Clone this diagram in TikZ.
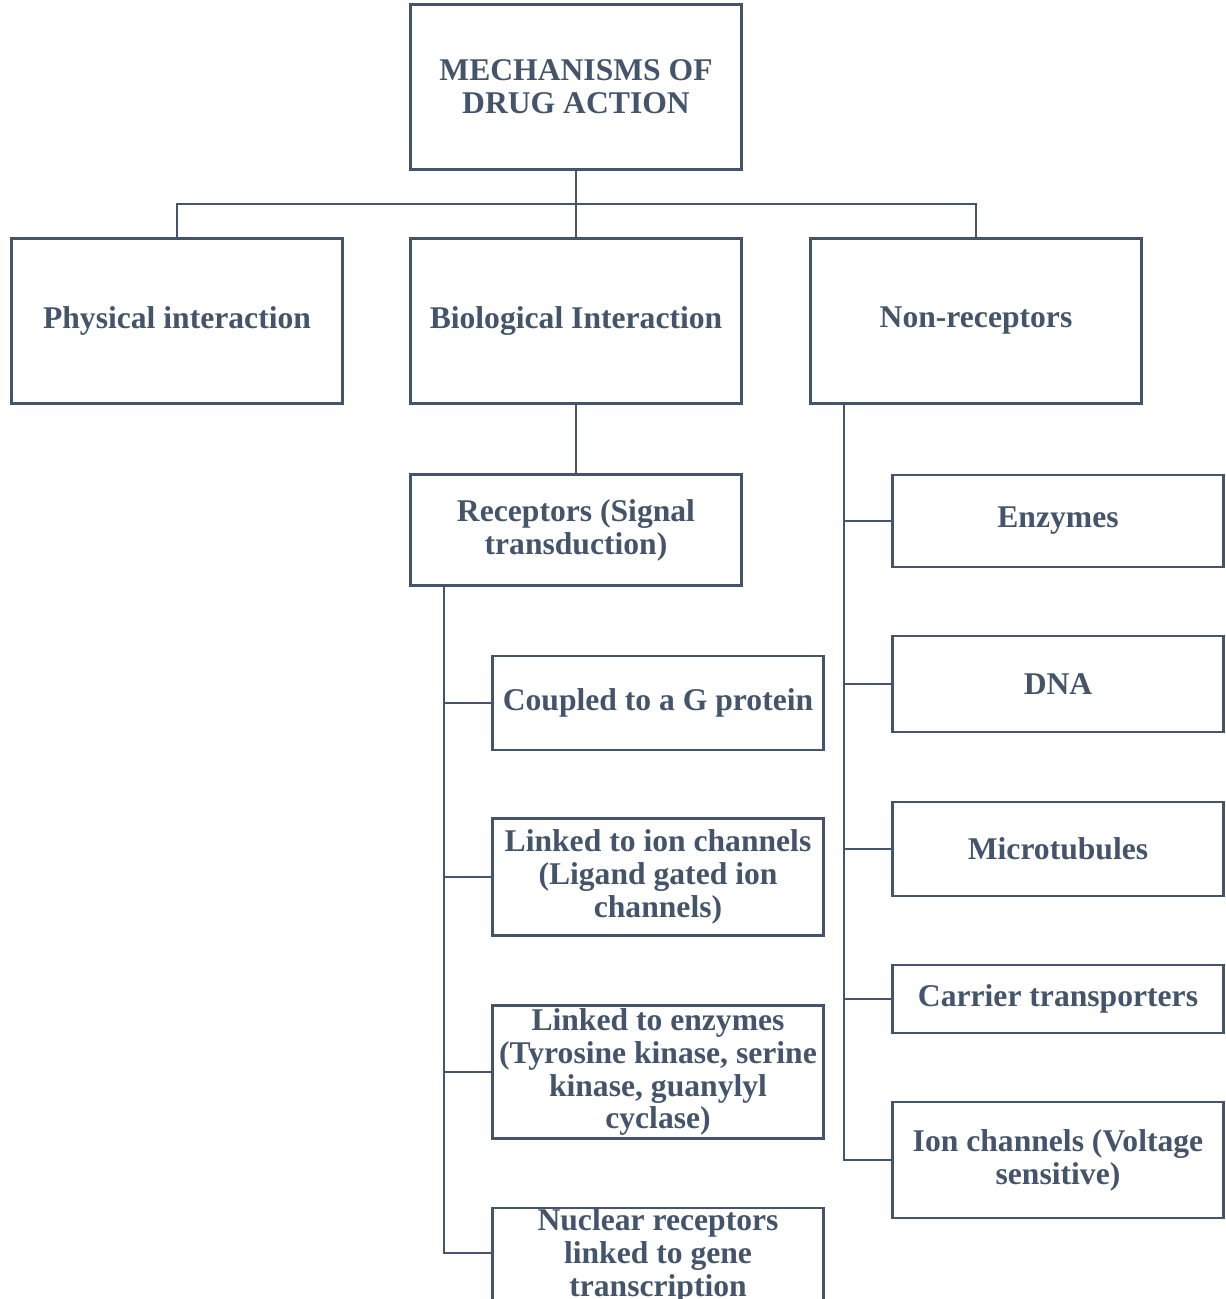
\documentclass[tikz,border=0pt]{standalone}
\usepackage{fontspec}
\setmainfont{Liberation Serif}
\definecolor{slate}{HTML}{44546A}

\begin{document}
\begin{tikzpicture}[x=0.02cm, y=-0.02cm,
  box/.style={draw=slate, line width=1.6pt, text=slate, minimum width=6.62cm, inner sep=0pt,
    align=center, font=\fontsize{18}{18.7}\selectfont\bfseries},
  link/.style={draw=slate, line width=1.1pt}]

\useasboundingbox (0,0) rectangle (1226,1299);
\clip (0,0) rectangle (1226,1299);

\node[box, minimum height=3.3cm] (top) at (576,87) {MECHANISMS OF\\DRUG ACTION};

\node[box, minimum height=3.3cm] (phys) at (177,321) {Physical interaction};
\node[box, minimum height=3.3cm] (bio) at (576,321) {Biological Interaction};
\node[box, minimum height=3.3cm] (nonrec) at (976,321) {Non-receptors};

\node[box, minimum height=2.22cm] (rec) at (576,530) {Receptors (Signal\\transduction)};

\node[box, minimum height=1.88cm] (gprot) at (658,703) {Coupled to a G protein};
\node[box, minimum height=2.34cm] (ionlig) at (658,877) {Linked to ion channels\\(Ligand gated ion\\channels)};
\node[box, minimum height=2.66cm] (linkenz) at (658,1072) {Linked to enzymes\\(Tyrosine kinase, serine\\kinase, guanylyl\\cyclase)};
\node[box, minimum height=1.92cm] (nuc) at (658,1256) {Nuclear receptors\\linked to gene\\transcription};

\node[box, minimum height=1.84cm] (enz) at (1058,521) {Enzymes};
\node[box, minimum height=1.92cm] (dna) at (1058,684) {DNA};
\node[box, minimum height=1.88cm] (micro) at (1058,849) {Microtubules};
\node[box, minimum height=1.36cm] (carrier) at (1058,999) {Carrier transporters};
\node[box, minimum height=2.32cm] (ionv) at (1058,1160) {Ion channels (Voltage\\sensitive)};

\coordinate (bus) at (576,204);
\draw[link] (top.south) -- (bio.north);
\draw[link] (phys.north) |- (bus) -| (nonrec.north);
\draw[link] (bio.south) -- (rec.north);

\coordinate (lt) at (444,586);
\draw[link] (lt) |- (444,1253) -- (nuc.west |- 0,1253);
\draw[link] (lt |- gprot.west) -- (gprot.west);
\draw[link] (lt |- ionlig.west) -- (ionlig.west);
\draw[link] (lt |- linkenz.west) -- (linkenz.west);

\coordinate (rt) at (844,404);
\draw[link] (rt) |- (ionv.west);
\draw[link] (rt |- enz.west) -- (enz.west);
\draw[link] (rt |- dna.west) -- (dna.west);
\draw[link] (rt |- micro.west) -- (micro.west);
\draw[link] (rt |- carrier.west) -- (carrier.west);

\end{tikzpicture}
\end{document}
